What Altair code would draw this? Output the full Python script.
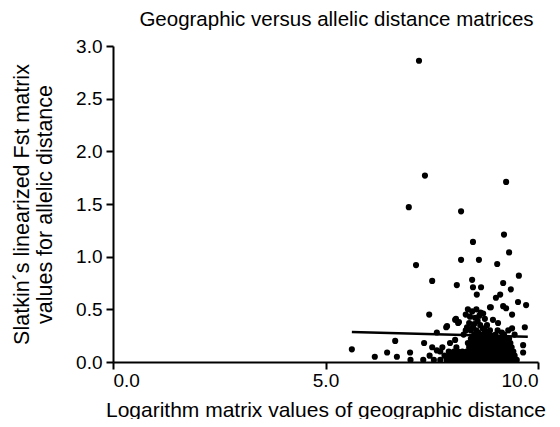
import altair as alt
import pandas as pd

# Scatter points: logarithm of geographic distance vs linearized Fst
geo_x = [
    7.20, 7.34, 9.25, 6.96, 8.19, 9.20, 8.47, 9.32, 7.13, 8.19, 8.61, 9.04, 9.55,
    7.51, 8.09, 8.45, 8.47, 8.66, 8.56, 9.18, 9.36, 9.01, 9.11, 9.53, 9.72, 9.18,
    8.89, 7.44, 9.39, 8.07, 8.14, 7.84, 7.62, 9.69, 9.39, 5.62, 6.64, 6.45, 6.16,
    6.68, 6.99, 9.65, 9.65, 7.32, 7.51, 7.62, 7.93, 8.05,
    9.25, 8.05, 8.12, 7.86, 9.15, 8.87, 8.87, 8.71, 8.94, 9.06, 8.47, 8.64,
    8.35, 8.45, 8.55, 8.65, 8.40, 8.52, 8.62, 8.75, 8.38, 8.50, 8.58, 8.30, 8.80,
    8.70, 8.42, 8.60, 8.33, 8.90,
    7.00, 7.30, 7.55, 7.70, 7.85, 7.95, 8.05, 8.15, 8.25, 8.35, 8.45, 8.55, 8.62,
    8.70, 8.80, 8.88, 8.95, 9.05, 9.12, 9.20, 9.30, 9.40, 9.50,
    7.45, 7.80, 7.92, 8.00, 8.10, 8.20, 8.30, 8.40, 8.50, 8.60, 8.68, 8.75, 8.85,
    8.92, 9.00, 9.08, 9.15, 9.25, 9.35, 9.45,
    7.70, 7.90, 8.02, 8.12, 8.22, 8.32, 8.42, 8.52, 8.63, 8.72, 8.82, 8.90, 9.00,
    9.10, 9.20, 9.30, 9.42,
    7.75, 8.08, 8.38, 8.48, 8.58, 8.68, 8.78, 8.88, 8.98, 9.08, 9.18, 9.28, 9.38,
    8.35, 8.45, 8.55, 8.65, 8.75, 8.85, 8.95, 9.05, 9.15, 9.25, 9.35,
    8.42, 8.52, 8.62, 8.72, 8.82, 8.92, 9.02, 9.12, 9.22, 9.32,
    8.25, 8.50, 8.60, 8.70, 8.80, 9.00, 9.20, 9.45,
    8.30, 8.55, 8.75, 9.05, 9.30,
]
fst_y = [
    2.86, 1.77, 1.71, 1.47, 1.43, 1.21, 1.14, 1.04, 0.92, 0.97, 0.97, 0.93, 0.82,
    0.77, 0.73, 0.78, 0.71, 0.71, 0.64, 0.75, 0.69, 0.61, 0.64, 0.57, 0.54, 0.53,
    0.52, 0.45, 0.45, 0.41, 0.38, 0.33, 0.28, 0.33, 0.32, 0.12, 0.20, 0.09, 0.05,
    0.05, 0.09, 0.16, 0.09, 0.18, 0.14, 0.11, 0.18, 0.21,
    0.51, 0.40, 0.37, 0.34, 0.28, 0.30, 0.52, 0.46, 0.40, 0.37, 0.33, 0.35,
    0.50, 0.48, 0.50, 0.47, 0.43, 0.42, 0.44, 0.41, 0.37, 0.36, 0.39, 0.45, 0.35,
    0.32, 0.30, 0.28, 0.33, 0.25,
    0.02, 0.02, 0.02, 0.02, 0.02, 0.02, 0.02, 0.02, 0.02, 0.02, 0.02, 0.02, 0.02,
    0.02, 0.02, 0.02, 0.02, 0.02, 0.02, 0.02, 0.02, 0.02, 0.02,
    0.06, 0.06, 0.06, 0.06, 0.06, 0.06, 0.06, 0.06, 0.06, 0.06, 0.06, 0.06, 0.06,
    0.06, 0.06, 0.06, 0.06, 0.06, 0.06, 0.06,
    0.10, 0.10, 0.10, 0.10, 0.10, 0.10, 0.10, 0.10, 0.10, 0.10, 0.10, 0.10, 0.10,
    0.10, 0.10, 0.10, 0.10,
    0.14, 0.14, 0.14, 0.14, 0.14, 0.14, 0.14, 0.14, 0.14, 0.14, 0.14, 0.14, 0.14,
    0.18, 0.18, 0.18, 0.18, 0.18, 0.18, 0.18, 0.18, 0.18, 0.18, 0.18,
    0.22, 0.22, 0.22, 0.22, 0.22, 0.22, 0.22, 0.22, 0.22, 0.22,
    0.26, 0.26, 0.26, 0.26, 0.26, 0.26, 0.26, 0.26,
    0.30, 0.30, 0.30, 0.30, 0.30,
]

# Fitted regression line endpoints
fit_x = [5.62, 9.76]
fit_y = [0.285, 0.24]

x_ticks = [0, 5, 10]
y_ticks = [0, 0.5, 1.0, 1.5, 2.0, 2.5, 3.0]

pts = pd.DataFrame({"x": geo_x, "y": fst_y})
fit = pd.DataFrame({"x": fit_x, "y": fit_y})

FONT = "Liberation Sans"

xs = alt.Scale(domain=[0, 10], nice=False, zero=False)
ys = alt.Scale(domain=[0, 3], nice=False, clamp=False)

xaxis = alt.Axis(values=x_ticks, format=".1f", grid=False, domainColor="black",
                 domainWidth=2, tickColor="black", tickWidth=2, tickSize=7,
                 labelFontSize=19, labelColor="black", labelFont=FONT,
                 labelPadding=2, titleFontSize=21, titleFont=FONT,
                 titleFontWeight="normal", titleColor="black", titlePadding=9,
                 title="Logarithm matrix values of geographic distance")
yaxis = alt.Axis(values=y_ticks, format=".1f", grid=False, domainColor="black",
                 domainWidth=2, tickColor="black", tickWidth=2, tickSize=7,
                 labelFontSize=19, labelColor="black", labelFont=FONT,
                 labelPadding=4, titleFontSize=21.5, titleFont=FONT,
                 titleFontWeight="normal", titleColor="black", titlePadding=19,
                 title=["Slatkin´s linearized Fst matrix", "values for allelic distance"])

points = alt.Chart(pts).mark_point(filled=True, shape="circle", size=38,
                                   color="black", opacity=1).encode(
    x=alt.X("x:Q", scale=xs, axis=xaxis),
    y=alt.Y("y:Q", scale=ys, axis=yaxis),
)

line = alt.Chart(fit).mark_line(color="black", strokeWidth=2.5).encode(
    x=alt.X("x:Q", scale=xs),
    y=alt.Y("y:Q", scale=ys),
)

chart = (points + line).properties(
    width=425,
    height=316,
    autosize=alt.AutoSizeParams(type="none"),
    padding={"left": 105, "top": 38, "right": 14, "bottom": 57},
    title=alt.TitleParams("Geographic versus allelic distance matrices",
                          fontSize=20.5, font=FONT, fontWeight="normal",
                          color="black", anchor="middle", dx=11, offset=7),
).configure_view(stroke=None)

chart.save("out.html", embed_options={"renderer": "svg", "actions": False})
